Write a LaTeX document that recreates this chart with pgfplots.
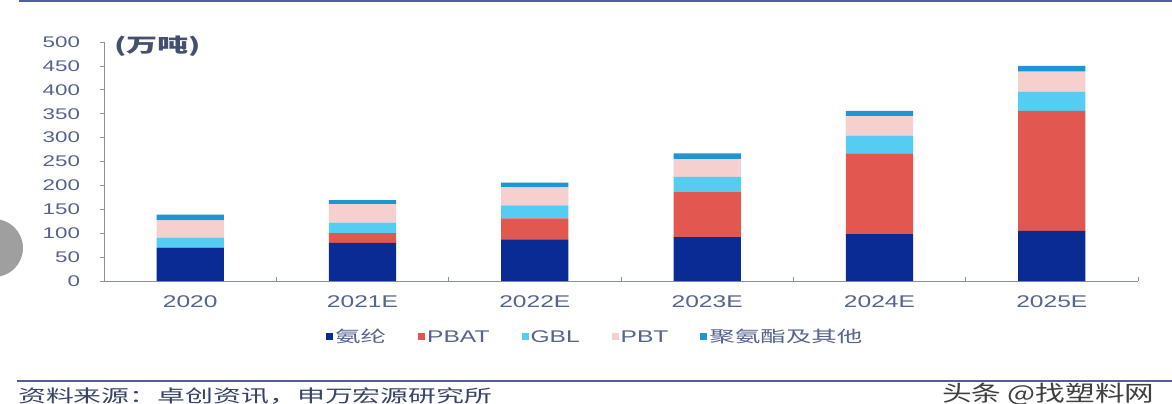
\documentclass[border=0pt]{standalone}
\usepackage{pgfplots}
\pgfplotsset{compat=1.18}
\usepackage{fontspec}
\setmainfont[FakeStretch=1.45]{Liberation Sans}
\newfontfamily\cjk[FakeStretch=1.6]{Noto Sans CJK SC}
\newfontfamily\cjkw[FakeStretch=1.35]{Noto Sans CJK SC}
\definecolor{cA}{RGB}{10,42,148}
\definecolor{cB}{RGB}{226,87,80}
\definecolor{cC}{RGB}{85,205,242}
\definecolor{cD}{RGB}{246,207,207}
\definecolor{cE}{RGB}{30,150,210}
\definecolor{tickcol}{RGB}{85,100,140}
\definecolor{axcol}{RGB}{140,145,160}
\definecolor{rulecol}{RGB}{80,95,150}
\pgfplotstableread{
x a b c d e
0 70 0 21 36 12
1 80 20 22 39 8
2 87 44 27 38 10
3 92 95 31 37 12
4 98 169 37 41 11
5 105 251 40 42 12
}\datatab
\begin{document}
\begin{tikzpicture}[x=1bp,y=1bp]
\useasboundingbox (0,0) rectangle (1172,403);
\clip (0,0) rectangle (1172,403);
\fill[white] (0,0) rectangle (1172,403);
% gray artifact at left edge
\fill[gray!75] (-6,155) circle (29);
% top and bottom rules
\draw[rulecol, line width=2.5bp] (19,401.8) -- (1172,401.8);
\draw[rulecol, line width=2bp] (17,22) -- (1172,22);
\begin{axis}[
  at={(104bp,122bp)}, anchor=south west,
  width=1034bp, height=239bp, scale only axis,
  ybar stacked, bar width=0.39,
  xmin=-0.5, xmax=5.5, ymin=0, ymax=500,
  ytick={0,50,...,500},
  xtick={0,1,2,3,4,5},
  xticklabels={2020,2021E,2022E,2023E,2024E,2025E},
  axis x line=bottom, axis y line=left,
  axis line style={-, axcol, line width=1bp},
  tick style={axcol, line width=0.8bp},
  major tick length=4.5bp,
  xtick style={draw=none},
  tick align=outside,
  extra x ticks={0.5,1.5,2.5,3.5,4.5,5.5},
  extra x tick labels={},
  extra x tick style={tick align=inside, xtick style={draw=axcol, line width=0.8bp}},
  /pgf/number format/assume math mode=true,
  yticklabel style={font=\fontsize{15.5}{17}\selectfont, text=tickcol, xshift=-16bp},
  xticklabel style={font=\fontsize{17}{19}\selectfont, text=tickcol, yshift=-7bp},
  every axis plot/.append style={draw=none,
    legend image code/.code={\fill[##1] (0bp,-3.5bp) rectangle (7bp,3.5bp);}},
  legend columns=5,
  legend style={at={(axis description cs:0.2147,-0.234)}, anchor=west,
    draw=none, fill=none, inner sep=0pt,
    font=\fontsize{17}{18}\selectfont, text=tickcol,
    /tikz/every even column/.append style={column sep=30bp},
    nodes={inner sep=2bp}},
]
\addplot[fill=cA] table[x=x,y=a]{\datatab};
\addplot[fill=cB] table[x=x,y=b]{\datatab};
\addplot[fill=cC] table[x=x,y=c]{\datatab};
\addplot[fill=cD] table[x=x,y=d]{\datatab};
\addplot[fill=cE] table[x=x,y=e]{\datatab};
\legend{{\cjk\fontsize{16}{17}\selectfont 氨纶},PBAT,GBL,PBT,{\cjk\fontsize{16}{17}\selectfont 聚氨酯及其他}}
\end{axis}
\node[anchor=west, inner sep=0pt, text=tickcol!80!black] at (114,357) {\cjk\bfseries\fontsize{19.5}{20}\selectfont (万吨)};
\node[anchor=north west, inner sep=0pt, text=rulecol!70!black] at (18,15) {\cjk\fontsize{17.5}{19}\selectfont 资料来源：卓创资讯，申万宏源研究所};
\node[anchor=north west, inner sep=0pt, text=black!75] at (942,20) {\cjkw\fontsize{22}{23}\selectfont 头条 @找塑料网};
\end{tikzpicture}
\end{document}
